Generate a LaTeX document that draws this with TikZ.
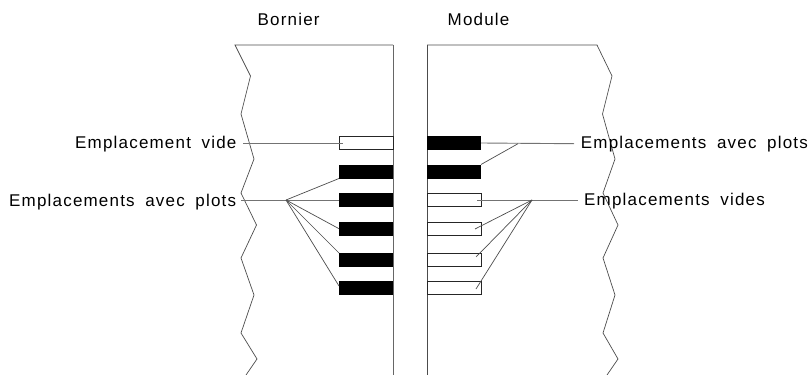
\documentclass[tikz,border=0pt]{standalone}
\usepackage{fontspec}
\setmainfont{Liberation Sans}
\newfontfamily\lblfont[LetterSpace=7,WordSpace=1.8]{Liberation Sans}
\tikzset{
  x=1pt,y=-1pt,
  zig/.style={draw=black!70,line width=0.7pt,line join=miter},
  leader/.style={draw=black!55,line width=0.9pt},
  spoke/.style={draw=black!70,line width=0.7pt},
  emptyslot/.style={draw=black!85,fill=white,line width=0.8pt,minimum width=54pt,minimum height=13pt,inner sep=0pt,outer sep=0pt},
  fullslot/.style={draw=none,fill=black,minimum width=54pt,minimum height=14pt,inner sep=0pt,outer sep=0pt},
  lbl/.style={font=\lblfont\fontsize{17}{19}\selectfont,inner sep=0pt,text=black,anchor=base west},
}
\begin{document}
\begin{tikzpicture}
\useasboundingbox (0,0) rectangle (812,375);
% panels
\draw[zig] (393,45) -- (235,45) -- (250.5,76) -- (241,114) -- (254,159) -- (241,193) -- (256.5,225) -- (241,258) -- (254,295) -- (241,333) -- (257,359) -- (246,375);
\draw[zig] (427,45) -- (597,45) -- (612,76) -- (602.5,114) -- (615,159) -- (603,193) -- (618,225) -- (603,258) -- (615,295) -- (603,333) -- (618,359) -- (607,375);
\draw[draw=black!60,line width=0.9pt] (393,45) -- (393,375);
\draw[draw=black!70,line width=0.8pt] (427,45) -- (427,375);
% left slots
\node[emptyslot] (L1) at (366,143) {};
\node[fullslot] (L2) at (366,171.5) {};
\node[fullslot] (L3) at (366,200) {};
\node[fullslot] (L4) at (366,228.7) {};
\node[fullslot] (L5) at (366,260) {};
\node[fullslot] (L6) at (366,288) {};
% right slots
\node[fullslot] (R1) at (454,143) {};
\node[fullslot] (R2) at (454,171.5) {};
\node[emptyslot] (R3) at (454,200) {};
\node[emptyslot] (R4) at (454,228.7) {};
\node[emptyslot] (R5) at (454,260) {};
\node[emptyslot] (R6) at (454,288) {};
% titles
\node[lbl] (tb) at (257.5,25.7) {Bornier};
\node[lbl] (tm) at (447.5,25.7) {Module};
% labels
\node[lbl] (a) at (75,148.3) {Emplacement vide};
\node[lbl] (b) at (9,206.5) {Emplacements avec plots};
\node[lbl] (c) at (580.7,148.3) {Emplacements avec plots};
\node[lbl] (d) at (584,205.3) {Emplacements vides};
% hubs
\coordinate (hl) at (286,200);
\coordinate (hr1) at (518,143.7);
\coordinate (hr2) at (532,200);
% leaders
\coordinate (a1) at (243,143.7); \coordinate (a2) at (343,143.7);
\draw[leader] (a1) -- (a2);
\coordinate (b1) at (241,200);
\draw[leader] (b1) -- (L3.west);
\coordinate (c1) at (574,143.7);
\draw[leader] (R1.east) -- (c1);
\coordinate (d0) at (477,200); \coordinate (d1) at (578,200);
\draw[leader] (d0) -- (d1);
% spokes
\draw[spoke] (hl) -- (L2.south west);
\draw[spoke] (hl) -- (L4.west);
\draw[spoke] (hl) -- (L5.north west);
\draw[spoke] (hl) -- (339,286);
\draw[spoke] (hr1) -- (R2.north east);
\coordinate (s4) at (475,229); \coordinate (s5) at (476,257); \coordinate (s6) at (476,289);
\draw[spoke] (hr2) -- (s4);
\draw[spoke] (hr2) -- (s5);
\draw[spoke] (hr2) -- (s6);
\end{tikzpicture}
\end{document}
